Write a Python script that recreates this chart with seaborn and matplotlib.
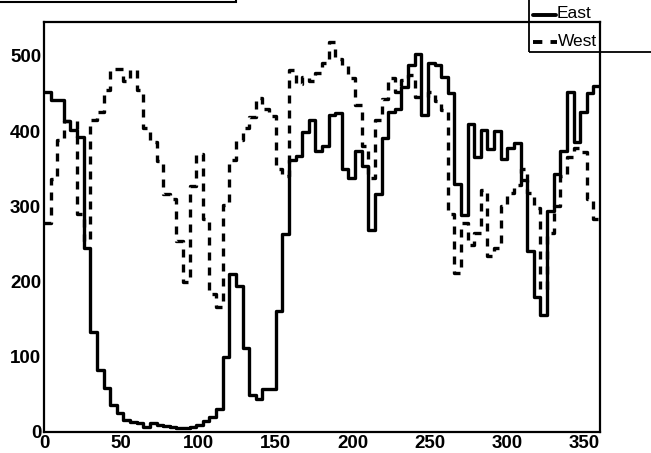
import numpy as np
import pandas as pd
import seaborn as sns
import matplotlib.pyplot as plt
from matplotlib.lines import Line2D
from matplotlib.patches import Rectangle
from matplotlib.ticker import MultipleLocator

# 84 bins over 0..360, bin contents
n_bins = 84
east = [452, 441, 441, 413, 402, 392, 245, 133, 82, 58,
        36, 25, 16, 13, 12, 7, 12, 9, 8, 7,
        5, 5, 7, 9, 14, 20, 31, 100, 210, 194,
        111, 49, 44, 57, 57, 161, 263, 362, 367, 399,
        415, 373, 380, 422, 424, 349, 338, 373, 353, 269,
        316, 391, 425, 430, 459, 488, 503, 422, 490, 488,
        472, 450, 329, 289, 410, 366, 402, 376, 400, 363,
        377, 384, 335, 241, 179, 156, 294, 343, 373, 452,
        386, 426, 450, 460]
west = [278, 336, 388, 413, 413, 290, 254, 415, 426, 455,
        483, 483, 466, 481, 455, 404, 386, 360, 316, 310,
        254, 199, 327, 370, 283, 183, 166, 302, 362, 388,
        404, 419, 444, 430, 420, 350, 340, 481, 463, 472,
        466, 477, 490, 519, 496, 488, 470, 435, 380, 338,
        415, 443, 470, 452, 468, 474, 445, 445, 452, 440,
        428, 290, 212, 278, 248, 265, 322, 234, 245, 300,
        318, 328, 350, 318, 298, 190, 265, 300, 340, 365,
        378, 372, 310, 283]

edges = list(np.linspace(0, 360, n_bins + 1))
centers = [(a + b) / 2 for a, b in zip(edges[:-1], edges[1:])]
df = pd.DataFrame({"angle": centers, "East": east, "West": west})

sns.set_theme(style="white")
plt.rcParams["font.family"] = ["Liberation Sans", "DejaVu Sans"]

W, H = 651, 453
fig = plt.figure(figsize=(W / 100, H / 100), dpi=100)
ax = fig.add_axes([44 / W, 1 - 432 / H, (600 - 44) / W, (432 - 22) / H])

# histograms drawn as outlines, like ROOT
lw = 2.4
dash = (0, (2.4, 2.1))
sns.histplot(data=df, x="angle", weights="East", bins=edges, element="step",
             fill=False, color="black", linewidth=lw, ax=ax)
sns.histplot(data=df, x="angle", weights="West", bins=edges, element="step",
             fill=False, color="black", linewidth=lw, linestyle=dash, ax=ax)

ax.set_xlim(0, 360)
ax.set_ylim(0, 545)
ax.set_xlabel("")
ax.set_ylabel("")
ax.grid(False)

ax.xaxis.set_major_locator(MultipleLocator(50))
ax.xaxis.set_minor_locator(MultipleLocator(10))
ax.yaxis.set_major_locator(MultipleLocator(100))
ax.yaxis.set_minor_locator(MultipleLocator(20))
ax.tick_params(which="both", direction="in", top=False, right=False,
               width=1.4, color="black", labelcolor="black", labelsize=13.5)
ax.tick_params(axis="y", which="major", length=11.5, pad=2)
ax.tick_params(axis="y", which="minor", length=5.8)
ax.tick_params(axis="x", which="major", length=8.9, pad=2.5)
ax.tick_params(axis="x", which="minor", length=4.4)
plt.setp(ax.get_xticklabels() + ax.get_yticklabels(), fontweight="bold")

for s in ax.spines.values():
    s.set_visible(True)
    s.set_color("black")
    s.set_linewidth(1.6)


def fx(px):
    return px / W


def fy(py):
    return 1 - py / H


# title pave cut off at the top left
fig.add_artist(Rectangle((fx(-8), fy(1.5)), fx(236 + 8), 0.1, fill=False,
                         ec="black", lw=1.5, transform=fig.transFigure, clip_on=False))

# legend box, running off the top right corner
fig.add_artist(Rectangle((fx(529), fy(52)), 0.3, 0.3, fill=False,
                         ec="black", lw=1.3, transform=fig.transFigure, clip_on=False))
fig.add_artist(Line2D([fx(533), fx(556)], [fy(15), fy(15)], color="black", lw=2.8,
                      transform=fig.transFigure))
fig.add_artist(Line2D([fx(533), fx(557)], [fy(41.5), fy(41.5)], color="black", lw=2.8,
                      linestyle=dash, transform=fig.transFigure))
fig.text(fx(557), fy(14), "East", ha="left", va="center", fontsize=12.5, color="black")
fig.text(fx(558), fy(41), "West", ha="left", va="center", fontsize=12.5, color="black")

fig.savefig("out.png", dpi=100)
